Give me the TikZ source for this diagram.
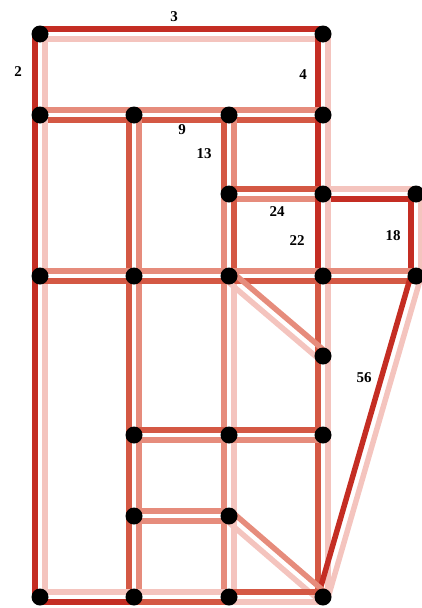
\documentclass[tikz,border=0pt]{standalone}
\usepackage{fontspec}
\setmainfont{Liberation Serif}
\usetikzlibrary{calc}
\definecolor{darkr}{RGB}{196,45,35}
\definecolor{medr}{RGB}{212,88,68}
\definecolor{salm}{RGB}{230,140,124}
\definecolor{pinkl}{RGB}{244,196,190}
\pgfdeclarelayer{bg}
\pgfsetlayers{bg,main}
\tikzset{
  dot/.style={circle,fill=black,inner sep=0pt,minimum size=17pt},
  strip/.style={line width=5.5pt,line cap=butt},
  lab/.style={font=\fontsize{15}{15}\selectfont\bfseries,inner sep=0pt}
}
\newcommand{\edg}[4]{%
  \draw[strip,#3] ($(#1.center)!5pt!90:(#2.center)$) -- ($(#2.center)!5pt!-90:(#1.center)$);
  \draw[strip,#4] ($(#1.center)!5pt!-90:(#2.center)$) -- ($(#2.center)!5pt!90:(#1.center)$);}
\begin{document}
\begin{tikzpicture}[x=1pt,y=-1pt]
\useasboundingbox (0,0) rectangle (421,608);
% nodes
\node[dot] (n1) at (40,34) {};
\node[dot] (n2) at (323,34) {};
\node[dot] (n3) at (40,115) {};
\node[dot] (n4) at (134,115) {};
\node[dot] (n5) at (229,115) {};
\node[dot] (n6) at (323,115) {};
\node[dot] (n7) at (229,194) {};
\node[dot] (n8) at (323,194) {};
\node[dot] (n9) at (416,194) {};
\node[dot] (n10) at (40,276) {};
\node[dot] (n11) at (134,276) {};
\node[dot] (n12) at (229,276) {};
\node[dot] (n13) at (323,276) {};
\node[dot] (n14) at (416,276) {};
\node[dot] (n22) at (323,356) {};
\node[dot] (n15) at (134,435) {};
\node[dot] (n16) at (229,435) {};
\node[dot] (n23) at (323,435) {};
\node[dot] (n17) at (134,516) {};
\node[dot] (n18) at (229,516) {};
\node[dot] (n19) at (40,597) {};
\node[dot] (n20) at (134,597) {};
\node[dot] (n21) at (229,597) {};
\node[dot] (n24) at (323,597) {};
\begin{pgfonlayer}{bg}
% top rectangle
\edg{n1}{n2}{darkr}{pinkl}
\edg{n3}{n1}{darkr}{pinkl}
\edg{n6}{n2}{darkr}{pinkl}
% row 115
\edg{n3}{n4}{salm}{medr}
\edg{n4}{n5}{salm}{medr}
\edg{n5}{n6}{salm}{medr}
% verticals to row 194
\edg{n7}{n5}{medr}{salm}
\edg{n8}{n6}{darkr}{pinkl}
\edg{n7}{n8}{medr}{salm}
\edg{n8}{n9}{pinkl}{darkr}
\edg{n14}{n9}{darkr}{pinkl}
% left column
\edg{n10}{n3}{darkr}{pinkl}
\edg{n19}{n10}{darkr}{pinkl}
% column 134
\edg{n11}{n4}{medr}{salm}
\edg{n15}{n11}{medr}{salm}
\edg{n17}{n15}{medr}{salm}
\edg{n20}{n17}{medr}{salm}
% column 229
\edg{n12}{n7}{salm}{medr}
\edg{n16}{n12}{salm}{pinkl}
\edg{n18}{n16}{salm}{pinkl}
\edg{n21}{n18}{salm}{pinkl}
% column 323
\edg{n13}{n8}{darkr}{pinkl}
\edg{n22}{n13}{medr}{pinkl}
\edg{n23}{n22}{medr}{pinkl}
\edg{n24}{n23}{medr}{pinkl}
% row 276
\edg{n10}{n11}{salm}{medr}
\edg{n11}{n12}{salm}{medr}
\edg{n12}{n13}{salm}{medr}
\edg{n13}{n14}{salm}{medr}
% diagonals
\edg{n12}{n22}{salm}{pinkl}
\edg{n24}{n14}{darkr}{pinkl}
\edg{n18}{n24}{salm}{pinkl}
% row 435
\edg{n15}{n16}{medr}{salm}
\edg{n16}{n23}{medr}{salm}
% row 516
\edg{n17}{n18}{salm}{salm}
% row 597
\edg{n19}{n20}{pinkl}{darkr}
\edg{n20}{n21}{pinkl}{medr}
\edg{n21}{n24}{medr}{pinkl}
\end{pgfonlayer}
% labels
\node[lab] (l3) at (174,17) {3};
\node[lab] (l2) at (18,72) {2};
\node[lab] (l4) at (303,75) {4};
\node[lab] (l9) at (182,130) {9};
\node[lab] (l13) at (204,154) {13};
\node[lab] (l24) at (277,212) {24};
\node[lab] (l22) at (297,241) {22};
\node[lab] (l18) at (393,236) {18};
\node[lab] (l56) at (364,378) {56};
\end{tikzpicture}
\end{document}
